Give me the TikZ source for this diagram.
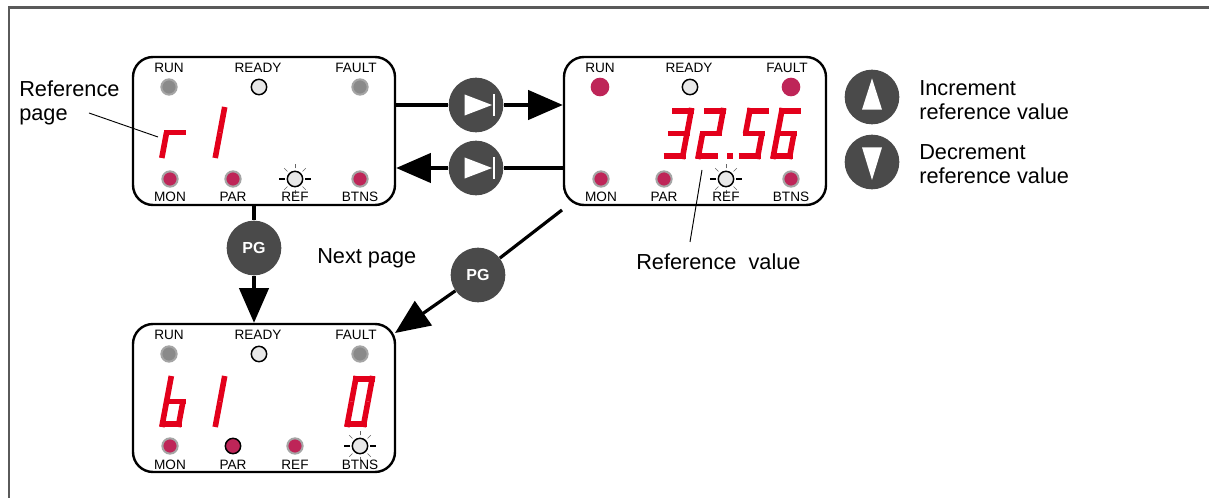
\documentclass[tikz,border=0pt]{standalone}
\usepackage{fontspec}
\setmainfont{Liberation Sans}
\usetikzlibrary{arrows.meta,calc,positioning}

\definecolor{segred}{RGB}{227,0,27}
\definecolor{ledred}{RGB}{190,37,88}
\definecolor{ledgray}{RGB}{138,138,138}
\definecolor{ringgray}{RGB}{165,165,165}
\definecolor{litgray}{RGB}{232,232,232}
\definecolor{btngray}{RGB}{74,74,74}
\definecolor{framegray}{RGB}{90,90,90}

\tikzset{
  panel/.style={draw, line width=1.8pt, rounded corners=15pt,
    minimum width=196.5pt, minimum height=111pt, inner sep=0pt},
  ledon/.style={circle, fill=ledred, draw=ringgray, line width=1.5pt,
    minimum size=11.5pt, inner sep=0pt},
  ledoff/.style={ledon, fill=ledgray},
  ledlive/.style={circle, fill=ledred, minimum size=14pt, inner sep=0pt},
  ledsel/.style={circle, fill=ledred, draw=black, line width=1.1pt,
    minimum size=11.5pt, inner sep=0pt},
  ledlit/.style={ledsel, fill=litgray},
  ray/.style={draw=black!60, line width=0.5pt},
  raybold/.style={draw=black, line width=0.8pt},
  ledsun/.style={ledlit, append after command={
    foreach \a in {0,180} {($(\tikzlastnode.center)+(\a:7.5pt)$) edge[raybold] ($(\tikzlastnode.center)+(\a:12pt)$)}
    foreach \a in {45,90,135,225,270,315} {($(\tikzlastnode.center)+(\a:8pt)$) edge[ray] ($(\tikzlastnode.center)+(\a:11.5pt)$)}}},
  ledtext/.style={font=\fontsize{10.2}{12}\selectfont, anchor=base, inner sep=0pt},
  note/.style={font=\fontsize{16.3}{17.5}\selectfont, align=left, inner sep=0pt},
  btn/.style={circle, fill=btngray, minimum size=41pt, inner sep=0pt,
    text=white, font=\bfseries\fontsize{12}{14}\selectfont},
  skipbtn/.style={btn, path picture={
    \fill[white] ([shift={(-8.6pt,7.9pt)}]path picture bounding box.center)
      -- ([shift={(12pt,0pt)}]path picture bounding box.center)
      -- ([shift={(-8.6pt,-7.9pt)}]path picture bounding box.center) -- cycle;
    \fill[white] ([shift={(12.8pt,-7.9pt)}]path picture bounding box.center)
      rectangle ([shift={(14.2pt,7.9pt)}]path picture bounding box.center);}},
  upbtn/.style={btn, path picture={
    \fill[white] ([shift={(0pt,14pt)}]path picture bounding box.center)
      -- ([shift={(7.5pt,-9.5pt)}]path picture bounding box.center)
      -- ([shift={(-7.5pt,-9.5pt)}]path picture bounding box.center) -- cycle;}},
  downbtn/.style={btn, path picture={
    \fill[white] ([shift={(0pt,-13.5pt)}]path picture bounding box.center)
      -- ([shift={(7.5pt,11pt)}]path picture bounding box.center)
      -- ([shift={(-7.5pt,11pt)}]path picture bounding box.center) -- cycle;}},
  conn/.style={line width=2.4pt},
  arr/.style={conn, -{Triangle[length=26pt,width=22pt]}},
  leader/.style={line width=0.7pt},
  seg/.style={draw=segred, line width=4.2pt},
}

% one display: frame, the seven LEDs and their names
\newcommand{\ledpanel}[3]{%
  \begin{scope}[shift={(#2)}, led run/.style=ledoff, led ready/.style=ledlit,
      led fault/.style=ledoff, led mon/.style=ledon, led par/.style=ledon,
      led ref/.style=ledon, led btns/.style=ledon, #3]
    \node[panel] (#1) at (131,74) {};
    \node[led run] (#1-run) at (36,30) {};
    \node[led ready] (#1-ready) at (126,30) {};
    \node[led fault] (#1-fault) at (227,30) {};
    \node[led mon] (#1-mon) at (37,122) {};
    \node[led par] (#1-par) at (100,122) {};
    \node[led ref] (#1-ref) at (162,122) {};
    \node[led btns] (#1-btns) at (227,122) {};
    \node[ledtext] at (36,16) {RUN};
    \node[ledtext] at (125,16) {READY};
    \node[ledtext] at (223,16) {FAULT};
    \node[ledtext] at (37,145) {MON};
    \node[ledtext] at (100,145) {PAR};
    \node[ledtext] at (162,145) {REF};
    \node[ledtext] at (227,145) {BTNS};
  \end{scope}}

% seven segment digit, #1 = lower left corner, #2 = lit segments
\newcommand{\segdigit}[2]{%
  \begin{scope}[shift={(#1)}, x={(0.75pt,0pt)}, y={(0.14pt,0.75pt)}]
    \coordinate (a1) at (0,48.2);   \coordinate (a2) at (22,48.2);
    \coordinate (b1) at (19.2,51);  \coordinate (b2) at (19.2,25.5);
    \coordinate (c1) at (19.2,25.5); \coordinate (c2) at (19.2,0);
    \coordinate (d1) at (0,2.8);    \coordinate (d2) at (22,2.8);
    \coordinate (e1) at (2.8,25.5); \coordinate (e2) at (2.8,0);
    \coordinate (f1) at (2.8,51);   \coordinate (f2) at (2.8,25.5);
    \coordinate (g1) at (0,25.5);   \coordinate (g2) at (22,25.5);
    \foreach \s in {#2} \draw[seg] (\s1) -- (\s2);
  \end{scope}}

\begin{document}
\begin{tikzpicture}[x=0.75pt, y=-0.75pt]
\useasboundingbox (0,0) rectangle (1209,498);
\draw[framegray, line width=1.6pt] (9,498) -- (9,7.5) -- (1209,7.5);

\ledpanel{P1}{133,57}{led ref/.style=ledsun}
\ledpanel{P2}{564,57}{led run/.style=ledlive, led fault/.style=ledlive, led ref/.style=ledsun}
\ledpanel{P3}{133,324}{led par/.style=ledsel, led btns/.style=ledsun}

\segdigit{159,158}{e,g}
\segdigit{196,158}{b,c}
\segdigit{663,159}{a,b,c,d,g}
\segdigit{695,159}{a,b,g,e,d}
\fill[segred] (727,153) rectangle (733,159);
\segdigit{738,159}{a,f,g,c,d}
\segdigit{770,159}{a,f,g,e,c,d}
\segdigit{159,427}{c,d,e,f,g}
\segdigit{196,427}{b,c}
\segdigit{344,427}{a,b,c,d,e,f}

\node[skipbtn] (fwd) at (476,105) {};
\node[skipbtn] (back) at (476,168) {};
\node[btn] (pg1) at (254,248) {PG};
\node[btn] (pg2) at (478,275) {PG};
\node[upbtn] (up) at (872,97) {};
\node[downbtn] (down) at (872,162) {};

\draw[conn] (P1.east |- fwd) -- (fwd);
\draw[arr] (fwd) -- (P2.west |- fwd);
\draw[conn] (P2.west |- back) -- (back);
\draw[arr] (back) -- (P1.east |- back);
\draw[conn] (P1.south -| pg1) -- (pg1);
\draw[arr] (pg1) -- (P3.north -| pg1);
\coordinate (pg2in) at (562,210);
\coordinate (pg2out) at (395,333);
\draw[conn] (pg2in) -- (pg2);
\draw[arr] (pg2) -- (pg2out);

\node[note, anchor=west] (refpage) at (19,103) {Reference\\page};
\node[note, anchor=west] (nextpage) at (317,258) {Next page};
\node[note, anchor=west] (refval) at (636,262) {Reference\ \ value};
\node[note, anchor=west] (inc) at (919,100) {Increment\\reference value};
\node[note, anchor=west] (dec) at (919,164) {Decrement\\reference value};

\coordinate (rpfoot) at (89,113);
\coordinate (rptip) at (158,137);
\draw[leader] (rpfoot) -- (rptip);
\coordinate (rvfoot) at (690,242);
\coordinate (rvtip) at (702,170);
\draw[leader] (rvfoot) -- (rvtip);
\end{tikzpicture}
\end{document}
